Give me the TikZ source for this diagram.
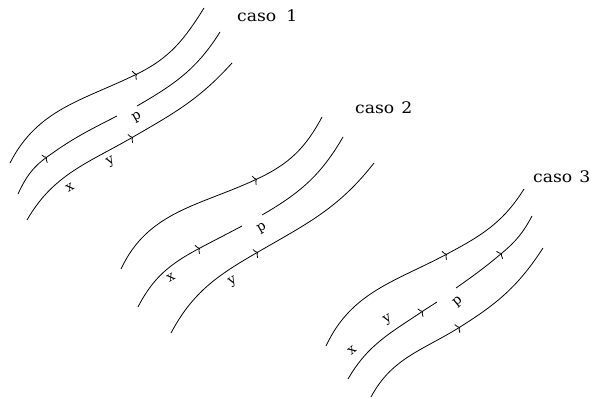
\documentclass[tikz,border=0pt]{standalone}
\usepackage{fontspec}
\setmainfont{DejaVu Serif}
\newfontfamily\casofont[FakeStretch=1.08]{DejaVu Serif}
\usetikzlibrary{arrows.meta}
\tikzset{
  fl/.style={line width=0.8pt},
  arr/.style={fl,-{To[length=3.5pt,width=10pt]}},
  lbl/.style={inner sep=0pt,font=\fontsize{13.5}{15}\selectfont,rotate=30},
  caso/.style={inner sep=0pt,anchor=base west,font=\casofont\fontsize{16}{18}\selectfont}
}
\begin{document}
\begin{tikzpicture}[x=1bp,y=1bp]
\useasboundingbox (0,0) rectangle (595,398);
% ---------- caso 1 ----------
\draw[arr] (10,398-163) to[out=63,in=206] (137,398-74);
\draw[fl]  (137,398-74) to[out=26,in=238] (204,398-8);
\draw[arr] (18,398-194) to[out=65,in=216] (47,398-157);
\draw[fl]  (47,398-157) to[out=36,in=207] (117,398-116);
\draw[fl]  (137,398-106) to[out=30,in=238] (220,398-32);
\draw[arr] (27,398-220) to[out=60,in=210] (133,398-137);
\draw[fl]  (133,398-137) to[out=30,in=228] (232,398-63);
\node[lbl] (x1) at (70,398-188) {x};
\node[lbl] (y1) at (111,398-162) {y};
\node[lbl] (p1) at (137,398-117) {p};
\node[caso] (c1) at (237,398-21) {caso\hspace{10pt}1};
% ---------- caso 2 ----------
\draw[arr] (121,398-269) to[out=65,in=205] (257,398-179);
\draw[fl]  (257,398-179) to[out=25,in=242] (322,398-117);
\draw[arr] (138,398-307) to[out=63,in=208] (200,398-248);
\draw[fl]  (200,398-248) to[out=28,in=208] (242,398-226);
\draw[fl]  (262,398-215) to[out=30,in=240] (343,398-137);
\draw[arr] (171,398-333) to[out=62,in=210] (258,398-252);
\draw[fl]  (258,398-252) to[out=30,in=232] (374,398-163);
\node[lbl] (x2) at (171,398-278) {x};
\node[lbl] (y2) at (233,398-282) {y};
\node[lbl] (p2) at (262,398-228) {p};
\node[caso] (c2) at (355,398-113) {caso\hspace{7pt}2};
% ---------- caso 3 ----------
\draw[arr] (326,398-346) to[out=65,in=208] (447,398-254);
\draw[fl]  (447,398-254) to[out=28,in=238] (524,398-189);
\draw[arr] (348,398-379) to[out=60,in=214] (423,398-311);
\draw[fl]  (423,398-311) to[out=34,in=213] (437,398-302);
\draw[arr] (456,398-288) to[out=35,in=220] (502,398-253);
\draw[fl]  (502,398-253) to[out=40,in=242] (532,398-216);
\draw[arr] (371,398-397) to[out=62,in=212] (460,398-327);
\draw[fl]  (460,398-327) to[out=32,in=237] (543,398-248);
\node[lbl,rotate=10] (x3) at (352,398-350) {x};
\node[lbl] (y3) at (388,398-320) {y};
\node[lbl,rotate=10] (p3) at (458,398-302) {p};
\node[caso] (c3) at (533,398-182) {caso\hspace{7pt}3};
\end{tikzpicture}
\end{document}
